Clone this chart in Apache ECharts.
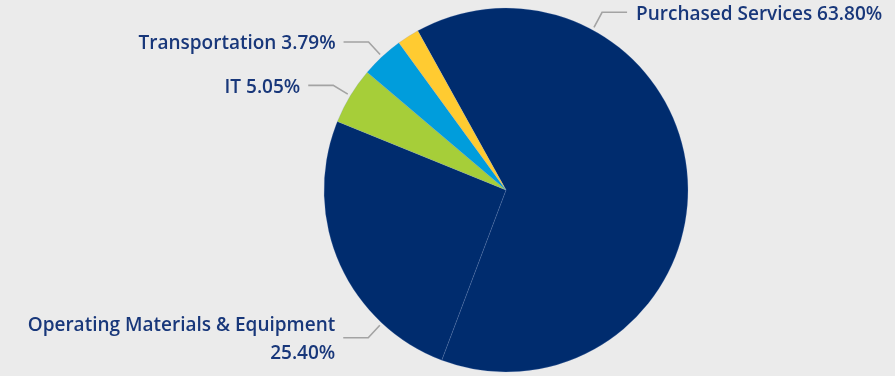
<!DOCTYPE html>
<html>
<head>
<meta charset="utf-8">
<script src="https://cdn.jsdelivr.net/npm/echarts@6/dist/echarts.min.js"></script>
<style>
  html, body { margin: 0; padding: 0; background: #ebebeb; }
  #chart { width: 895px; height: 376px; }
</style>
</head>
<body>
<div id="chart"></div>
<script>
// Spend share by category (percent)
const categories = ['Purchased Services', 'Operating Materials & Equipment', 'IT', 'Transportation', 'Other'];
const shares = [63.80, 25.40, 5.05, 3.79, 1.96];
const showLabel = [true, true, true, true, false];

// Styling
const colors = ['#002c6e', '#002c6e', '#a6ce39', '#009ddc', '#ffcb31'];
const CX = 506, CY = 190, R = 182;
const START = 119;                 // degrees, counter-clockwise from 3 o'clock
// Where each leader line leaves the pie (degrees clockwise from 12 o'clock); null = slice middle
const anchorAngle = [28.4, 223, null, null, null];
const wrapLabel = [false, true, false, false, false];

const total = shares.reduce((a, b) => a + b, 0);
const midAngles = [];
let acc = 90 - START;
shares.forEach(v => {
  const span = v / total * 360;
  midAngles.push(acc + span / 2);
  acc += span;
});

const chart = echarts.init(document.getElementById('chart'), null, { renderer: 'canvas' });
chart.setOption({
  backgroundColor: '#ebebeb',
  animation: false,
  series: [{
    type: 'pie',
    center: [CX, CY],
    radius: [0, R],
    startAngle: START,
    clockwise: true,
    avoidLabelOverlap: false,
    itemStyle: { borderColor: 'rgba(120,150,200,0.35)', borderWidth: 0.6 },
    label: {
      show: true,
      color: '#18377a',
      fontFamily: '"Open Sans", "Noto Sans", sans-serif',
      fontWeight: 600,
      fontSize: 19,
      lineHeight: 28,
      formatter: p => p.name + (wrapLabel[p.dataIndex] ? '\n' : ' ') + p.value.toFixed(2) + '%'
    },
    labelLine: { show: true, lineStyle: { color: '#a3a3a3', width: 1.6 } },
    labelLayout: function (params) {
      const i = params.dataIndex;
      const deg = anchorAngle[i] != null ? anchorAngle[i] : midAngles[i];
      const a = deg * Math.PI / 180;
      const sx = Math.sin(a), sy = -Math.cos(a);
      const p0 = [CX + sx * (R + 3), CY + sy * (R + 3)];
      const p1 = [p0[0] + sx * 17, p0[1] + sy * 17];
      const right = sx >= 0;
      const p2 = [p1[0] + (right ? 25 : -25), p1[1]];
      return {
        x: p2[0] + (right ? 9 : -8),
        y: p2[1] + 2,
        align: right ? 'left' : 'right',
        verticalAlign: 'middle',
        labelLinePoints: [p0, p1, p2]
      };
    },
    data: categories.map((name, i) => ({
      name: name,
      value: shares[i],
      itemStyle: { color: colors[i] },
      label: { show: showLabel[i], align: wrapLabel[i] ? 'right' : undefined },
      labelLine: { show: showLabel[i] }
    }))
  }]
});
</script>
</body>
</html>
